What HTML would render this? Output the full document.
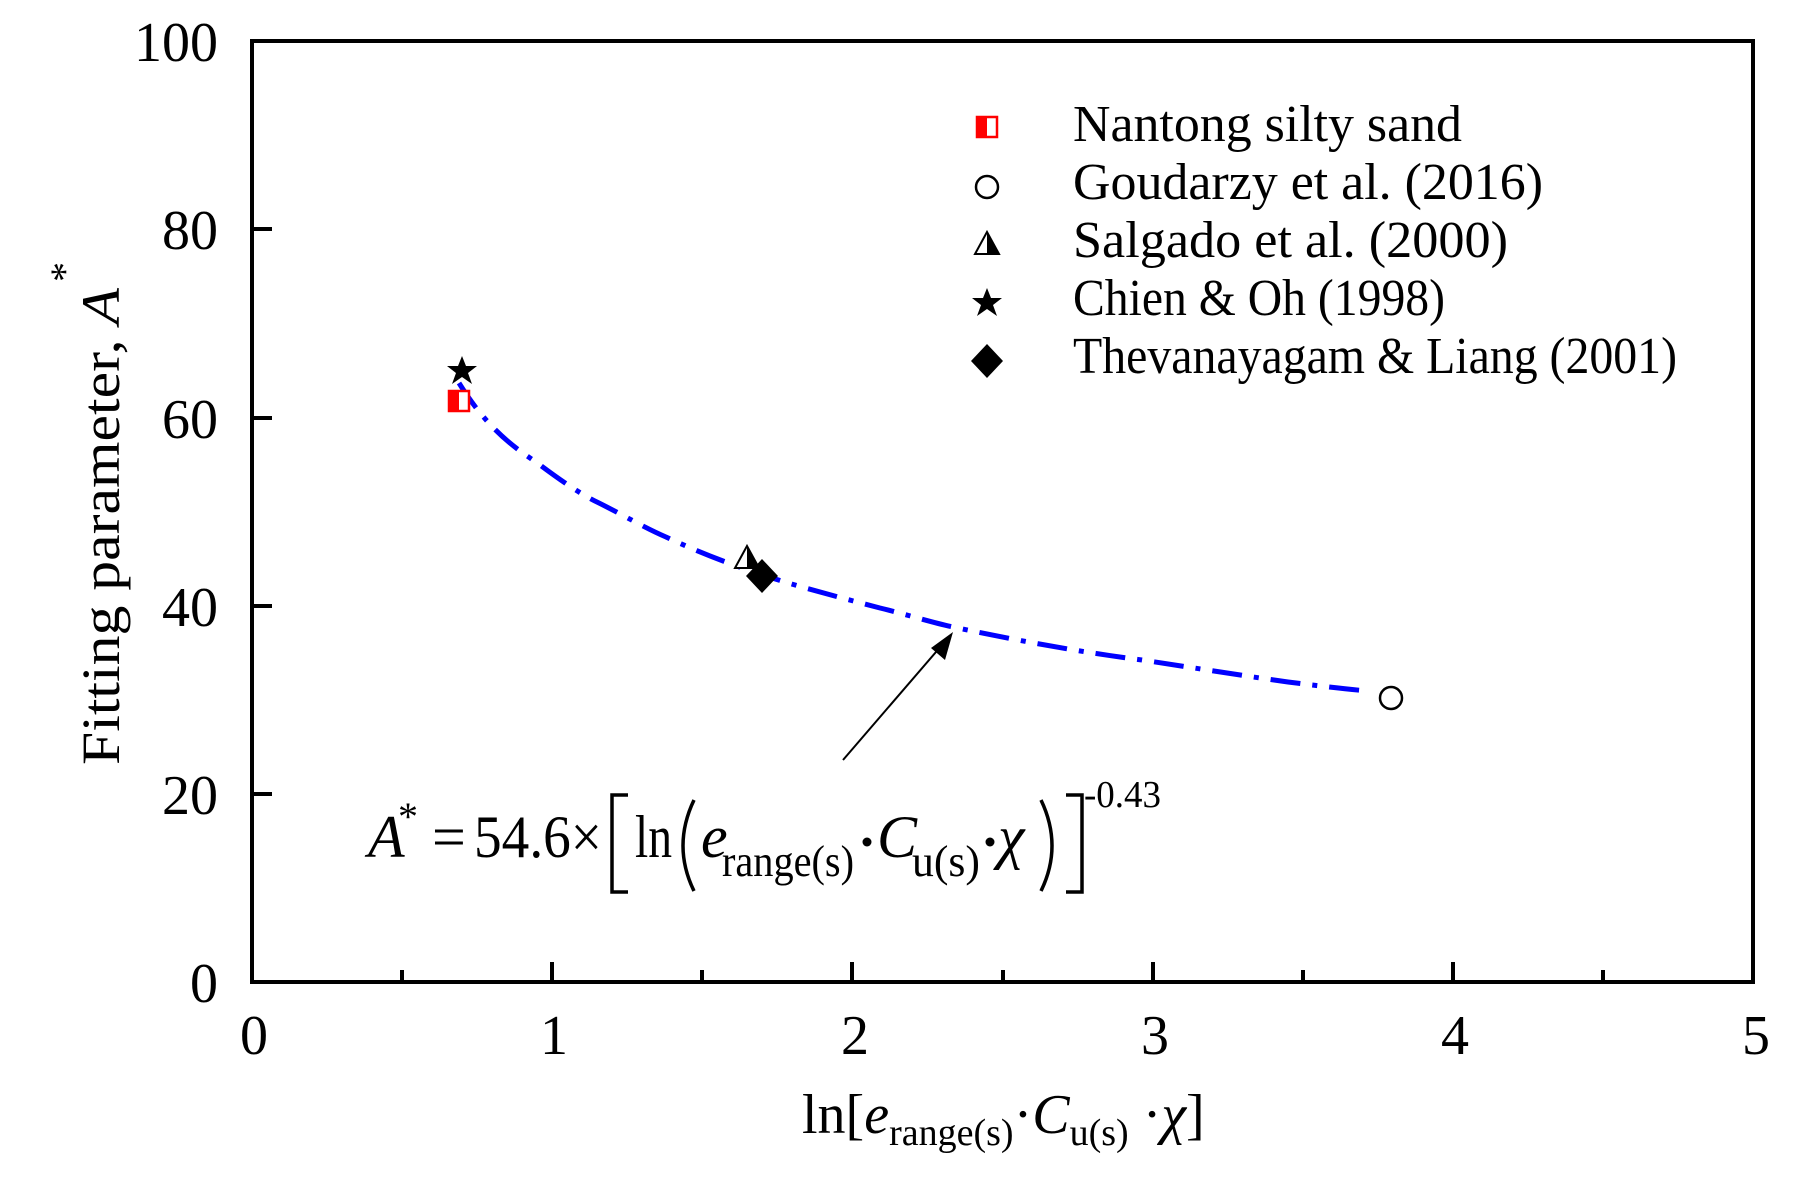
<!DOCTYPE html>
<html><head><meta charset="utf-8"><style>
html,body{margin:0;padding:0;background:#fff;}
svg{display:block;font-family:"Liberation Serif",serif;}
</style></head><body>
<svg width="1816" height="1187" viewBox="0 0 1816 1187" xmlns="http://www.w3.org/2000/svg">
<rect width="1816" height="1187" fill="#fff"/>
<rect x="252" y="41" width="1501" height="941" fill="none" stroke="#000" stroke-width="4"/>
<g stroke="#000" stroke-width="4">
<line x1="402" y1="982" x2="402" y2="970"/>
<line x1="552" y1="982" x2="552" y2="962"/>
<line x1="702" y1="982" x2="702" y2="970"/>
<line x1="852" y1="982" x2="852" y2="962"/>
<line x1="1003" y1="982" x2="1003" y2="970"/>
<line x1="1153" y1="982" x2="1153" y2="962"/>
<line x1="1303" y1="982" x2="1303" y2="970"/>
<line x1="1453" y1="982" x2="1453" y2="962"/>
<line x1="1603" y1="982" x2="1603" y2="970"/>
<line x1="252" y1="794" x2="272" y2="794"/>
<line x1="252" y1="606" x2="272" y2="606"/>
<line x1="252" y1="418" x2="272" y2="418"/>
<line x1="252" y1="229" x2="272" y2="229"/>
</g>
<g font-size="56" text-anchor="end">
<text x="218" y="1002">0</text>
<text x="218" y="814">20</text>
<text x="218" y="626">40</text>
<text x="218" y="438">60</text>
<text x="218" y="249">80</text>
<text x="218" y="61">100</text>
</g>
<g font-size="56" text-anchor="middle">
<text x="254" y="1054">0</text>
<text x="554" y="1054">1</text>
<text x="855" y="1054">2</text>
<text x="1155" y="1054">3</text>
<text x="1455" y="1054">4</text>
<text x="1756" y="1054">5</text>
</g>
<text transform="translate(119,765) rotate(-90)" font-size="54" textLength="477" lengthAdjust="spacingAndGlyphs">Fitting parameter, <tspan font-style="italic">A</tspan></text>
<text transform="translate(78,282) rotate(-90)" font-size="40">*</text>
<text x="802" y="1133" font-size="56">ln[<tspan font-style="italic">e</tspan><tspan font-size="38" dy="12">range(s)</tspan><tspan dy="-12">·</tspan><tspan font-style="italic">C</tspan><tspan font-size="38" dy="12">u(s)</tspan><tspan dy="-12"> ·</tspan><tspan font-style="italic">χ</tspan>]</text>
<path fill="none" stroke="#0000ff" stroke-width="5" stroke-dasharray="30,12,5,12" d="M459,383 C485,425 510,445 536,462 C560,480 580,494 599,503 C625,516 645,528 666,537 C700,553 740,568 772,578 C810,590 850,600 880,608 C905,614 930,622 953,627 C1020,641 1080,652 1142,660 C1195,668 1245,676 1288,682 C1320,686 1345,689 1368,691"/>
<line x1="843" y1="760" x2="942" y2="645" stroke="#000" stroke-width="2"/>
<polygon points="953,632 931,648 945,660" fill="#000"/>
<rect x="449" y="391" width="20" height="20" fill="#fff" stroke="#f00" stroke-width="2.5"/>
<rect x="449" y="391" width="10" height="20" fill="#f00"/>
<polygon points="462,356 466,366 477,366 468,373 472,384 462,377 452,384 456,373 447,366 458,366" fill="#000"/>
<polygon points="747,546 759,568 735,568" fill="#fff" stroke="#000" stroke-width="2"/>
<polygon points="747,546 759,568 747,568" fill="#000"/>
<polygon points="762,559 778,576 762,593 746,576" fill="#000"/>
<circle cx="1391" cy="698" r="11" fill="#fff" stroke="#000" stroke-width="2.5"/>
<rect x="977" y="117" width="20" height="20" fill="#fff" stroke="#f00" stroke-width="2.5"/>
<rect x="977" y="117" width="10" height="20" fill="#f00"/>
<circle cx="987" cy="187" r="11" fill="#fff" stroke="#000" stroke-width="2.5"/>
<polygon points="987,232 999,254 975,254" fill="#fff" stroke="#000" stroke-width="2"/>
<polygon points="987,232 999,254 987,254" fill="#000"/>
<polygon points="987,288 991,298 1002,298 993,305 997,316 987,309 977,316 981,305 972,298 983,298" fill="#000"/>
<polygon points="987,344 1003,361 987,378 971,361" fill="#000"/>
<g font-size="52">
<text x="1073" y="141" textLength="389" lengthAdjust="spacingAndGlyphs">Nantong silty sand</text>
<text x="1073" y="199" textLength="470" lengthAdjust="spacingAndGlyphs">Goudarzy et al. (2016)</text>
<text x="1073" y="257" textLength="435" lengthAdjust="spacingAndGlyphs">Salgado et al. (2000)</text>
<text x="1073" y="315" textLength="372" lengthAdjust="spacingAndGlyphs">Chien &amp; Oh (1998)</text>
<text x="1073" y="373" textLength="604" lengthAdjust="spacingAndGlyphs">Thevanayagam &amp; Liang (2001)</text>
</g>
<g font-size="60">
<text x="368" y="857" font-style="italic">A</text>
<text x="398" y="830" font-size="40">*</text>
<text x="432" y="857">=</text>
<text x="474" y="857" textLength="128" lengthAdjust="spacingAndGlyphs">54.6×</text>
<path d="M628,795 L612,795 L612,892 L628,892" fill="none" stroke="#000" stroke-width="3.5"/>
<text x="635" y="857" textLength="37" lengthAdjust="spacingAndGlyphs">ln</text>
<path d="M694,800 Q672,846 694,891" fill="none" stroke="#000" stroke-width="3.5"/>
<text x="701" y="857" font-style="italic">e</text>
<text x="722" y="876" font-size="44" textLength="132" lengthAdjust="spacingAndGlyphs">range(s)</text>
<circle cx="867" cy="842" r="4.5" fill="#000"/>
<text x="877" y="857" font-style="italic">C</text>
<text x="912" y="876" font-size="44" textLength="68" lengthAdjust="spacingAndGlyphs">u(s)</text>
<circle cx="990" cy="842" r="4.5" fill="#000"/>
<text x="998" y="857" font-style="italic">χ</text>
<path d="M1041,800 Q1063,846 1041,891" fill="none" stroke="#000" stroke-width="3.5"/>
<path d="M1066,795 L1082,795 L1082,892 L1066,892" fill="none" stroke="#000" stroke-width="3.5"/>
<text x="1084" y="807" font-size="38" textLength="77" lengthAdjust="spacingAndGlyphs">-0.43</text>
</g>
</svg>
</body></html>
